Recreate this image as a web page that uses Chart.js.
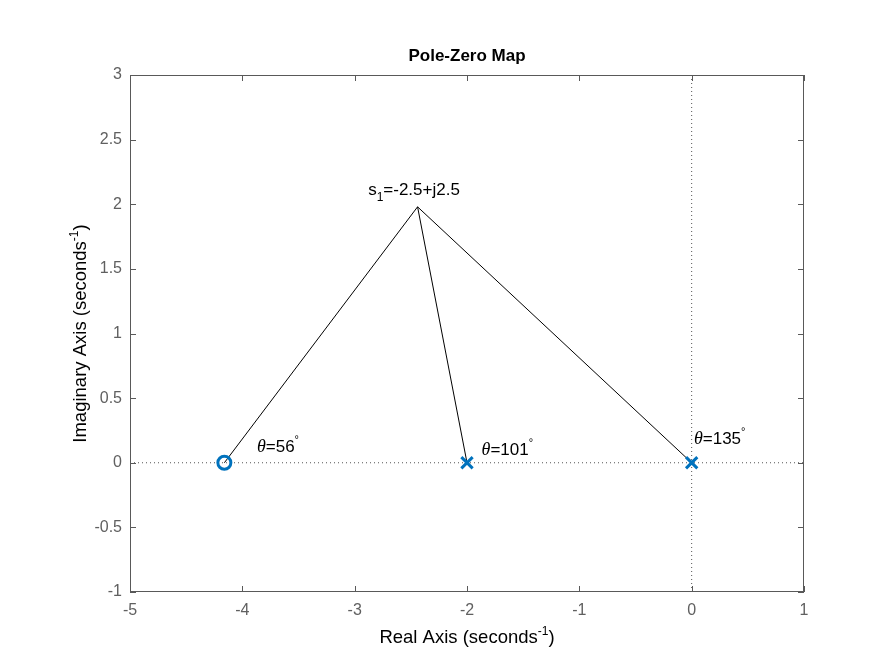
<!DOCTYPE html>
<html lang="en">
<head>
    <meta charset="UTF-8">
    <title>Pole-Zero Map</title>
    <script src="https://cdn.jsdelivr.net/npm/chart.js"></script>
    <style>
        html, body { margin: 0; padding: 0; background: #fff; }
        #wrap { width: 889px; height: 665px; }
    </style>
</head>
<body>
    <div id="wrap"><canvas id="pzChart" width="889" height="665"></canvas></div>

    <script>
        // values
        const s1 = { x: -2.44, y: 1.98 };
        const zeros = [{ x: -4.16, y: 0 }];
        const poles = [{ x: -2, y: 0 }, { x: 0, y: 0 }];
        const angleLabels = ['56', '101', '135'];
        const angleLabelPos = [{ x: -3.87, y: 0.13 }, { x: -1.87, y: 0.11 }, { x: 0.02, y: 0.19 }];
        const s1LabelPos = { x: -2.88, y: 2.12 };
        const xRange = [-5, 1];
        const yRange = [-1, 3];

        const SANS = '"Liberation Sans", Arial, sans-serif';
        const SERIF = '"Liberation Serif", "Times New Roman", serif';
        const BOX_GRAY = '#595959';
        const TICK_GRAY = '#606060';
        const BLUE = '#0072BD';

        // pieces: [text, font, dy]
        function drawRich(ctx, pieces, x, y, align) {
            let total = 0;
            pieces.forEach(p => { ctx.font = p[1]; total += ctx.measureText(p[0]).width; });
            let cx = align === 'center' ? x - total / 2 : x;
            ctx.textAlign = 'left';
            ctx.textBaseline = 'alphabetic';
            pieces.forEach(p => {
                ctx.font = p[1];
                ctx.fillText(p[0], cx, y + (p[2] || 0));
                cx += ctx.measureText(p[0]).width;
            });
        }

        const decorPlugin = {
            id: 'decor',
            afterDatasetsDraw(chart) {
                const ctx = chart.ctx;
                const a = chart.chartArea;
                const xs = chart.scales.x, ys = chart.scales.y;
                ctx.save();

                // box + inward ticks
                ctx.strokeStyle = BOX_GRAY;
                ctx.lineWidth = 1;
                ctx.strokeRect(a.left + 0.5, a.top + 0.5, a.right - a.left - 1, a.bottom - a.top - 1);
                ctx.beginPath();
                xs.ticks.forEach(t => {
                    const px = Math.round(xs.getPixelForValue(t.value)) + 0.5;
                    ctx.moveTo(px, a.bottom); ctx.lineTo(px, a.bottom - 6);
                    ctx.moveTo(px, a.top); ctx.lineTo(px, a.top + 6);
                });
                ys.ticks.forEach(t => {
                    const py = Math.round(ys.getPixelForValue(t.value)) + 0.5;
                    ctx.moveTo(a.left, py); ctx.lineTo(a.left + 6, py);
                    ctx.moveTo(a.right, py); ctx.lineTo(a.right - 6, py);
                });
                ctx.stroke();

                ctx.fillStyle = '#000';
                // angle labels
                angleLabels.forEach((lab, i) => {
                    const p = angleLabelPos[i];
                    drawRich(ctx, [
                        ['\u03B8', 'italic 18px ' + SERIF, 0],
                        ['=' + lab, '17px ' + SANS, 0],
                        ['\u00B0', '11px ' + SANS, -9]
                    ], xs.getPixelForValue(p.x), ys.getPixelForValue(p.y) + 6, 'left');
                });
                // s1 label
                drawRich(ctx, [
                    ['s', '17px ' + SANS, 0],
                    ['1', '12px ' + SANS, 6],
                    ['=-2.5+j2.5', '17px ' + SANS, 0]
                ], xs.getPixelForValue(s1LabelPos.x), ys.getPixelForValue(s1LabelPos.y) + 6, 'left');

                // title and axis titles
                const midX = (a.left + a.right) / 2;
                ctx.font = 'bold 17px ' + SANS;
                ctx.textAlign = 'center';
                ctx.fillText('Pole-Zero Map', midX, 61);

                drawRich(ctx, [
                    ['Real Axis (seconds', '18.5px ' + SANS, 0],
                    ['-1', '12px ' + SANS, -8],
                    [')', '18.5px ' + SANS, 0]
                ], midX, 643, 'center');

                ctx.translate(86, (a.top + a.bottom) / 2);
                ctx.rotate(-Math.PI / 2);
                drawRich(ctx, [
                    ['Imaginary Axis (seconds', '18.5px ' + SANS, 0],
                    ['-1', '12px ' + SANS, -8],
                    [')', '18.5px ' + SANS, 0]
                ], 0, 0, 'center');

                ctx.restore();
            }
        };

        const lineStyle = { borderColor: '#000', borderWidth: 1, pointRadius: 0, showLine: true, fill: false };
        const dotted = { borderColor: '#555', borderWidth: 1, borderDash: [1, 3], pointRadius: 0, showLine: true, fill: false };
        const targets = zeros.concat(poles);

        const datasets = [
            Object.assign({ data: [{ x: xRange[0], y: 0 }, { x: xRange[1], y: 0 }], order: 10 }, dotted),
            Object.assign({ data: [{ x: 0, y: yRange[0] }, { x: 0, y: yRange[1] }], order: 10 }, dotted)
        ];
        targets.forEach(t => {
            datasets.push(Object.assign({ data: [s1, t], order: 5 }, lineStyle));
        });
        datasets.push({
            data: zeros, showLine: false, pointStyle: 'circle', pointRadius: 6.5,
            pointBorderWidth: 3, pointBorderColor: BLUE, pointBackgroundColor: 'rgba(0,0,0,0)', order: 1
        });
        datasets.push({
            data: poles, showLine: false, pointStyle: 'crossRot', pointRadius: 8,
            pointBorderWidth: 3, pointBorderColor: BLUE, order: 1
        });

        new Chart(document.getElementById('pzChart').getContext('2d'), {
            type: 'scatter',
            data: { datasets: datasets },
            options: {
                responsive: false,
                animation: false,
                layout: { padding: { top: 75, right: 85, left: 0, bottom: 0 } },
                plugins: { legend: { display: false }, tooltip: { enabled: false } },
                scales: {
                    x: {
                        type: 'linear', min: xRange[0], max: xRange[1],
                        grid: { display: false, drawTicks: false },
                        border: { display: false },
                        ticks: { stepSize: 1, padding: 9, color: TICK_GRAY, font: { family: SANS, size: 16 }, callback: v => String(v) },
                        afterFit: s => { s.height = 73; }
                    },
                    y: {
                        type: 'linear', min: yRange[0], max: yRange[1],
                        grid: { display: false, drawTicks: false },
                        border: { display: false },
                        ticks: { stepSize: 0.5, padding: 8, color: TICK_GRAY, font: { family: SANS, size: 16 }, callback: v => String(v) },
                        afterFit: s => { s.width = 130; }
                    }
                }
            },
            plugins: [decorPlugin]
        });
    </script>
</body>
</html>
